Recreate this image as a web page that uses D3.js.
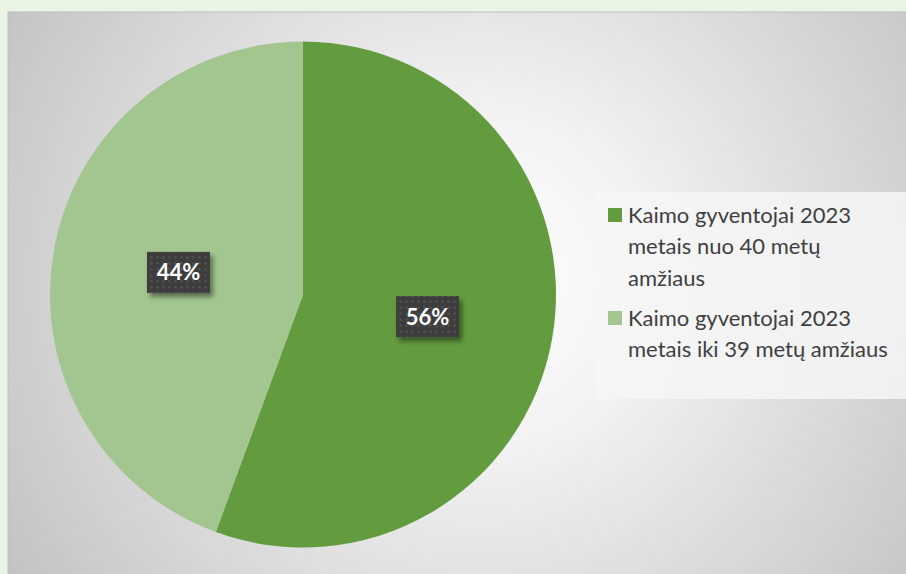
<!DOCTYPE html>
<html>
<head>
<meta charset="utf-8">
<script src="https://cdn.jsdelivr.net/npm/d3@7/dist/d3.min.js"></script>
<style>
  html, body { margin: 0; padding: 0; background: #e9f4e3; }
  svg { display: block; }
</style>
</head>
<body>
<svg id="chart" width="906" height="574"></svg>
<script>
// Data
const categories = [
  "Kaimo gyventojai 2023 metais nuo 40 metų amžiaus",
  "Kaimo gyventojai 2023 metais iki 39 metų amžiaus"
];
const legendLines = [
  ["Kaimo gyventojai 2023", "metais nuo 40 metų", "amžiaus"],
  ["Kaimo gyventojai 2023", "metais iki 39 metų amžiaus"]
];
const values = [55.6, 44.4];
const colors = ["#629c3e", "#a3c58f"];

const W = 906, H = 574;
const svg = d3.select("#chart");
const defs = svg.append("defs");

// background gradient
const rg = defs.append("radialGradient").attr("id", "bg")
  .attr("gradientUnits", "userSpaceOnUse")
  .attr("cx", 480).attr("cy", 280).attr("r", 560);
rg.append("stop").attr("offset", "0").attr("stop-color", "#ffffff");
rg.append("stop").attr("offset", "0.3").attr("stop-color", "#f2f2f2");
rg.append("stop").attr("offset", "1").attr("stop-color", "#c2c2c2");

// dotted pattern for labels
const pat = defs.append("pattern").attr("id", "dots")
  .attr("patternUnits", "userSpaceOnUse").attr("width", 6).attr("height", 6);
pat.append("rect").attr("width", 6).attr("height", 6).attr("fill", "#3e3e3e");
pat.append("rect").attr("x", 2).attr("y", 2).attr("width", 2).attr("height", 2).attr("fill", "#565656");

const sh = defs.append("filter").attr("id", "shadow")
  .attr("x", "-30%").attr("y", "-30%").attr("width", "160%").attr("height", "160%");
sh.append("feDropShadow").attr("dx", 3).attr("dy", 4).attr("stdDeviation", 2.5)
  .attr("flood-color", "#000").attr("flood-opacity", 0.45);

// chart area
svg.append("rect").attr("x", 8).attr("y", 12).attr("width", W).attr("height", H)
  .attr("fill", "url(#bg)").attr("stroke", "#bdbdbd").attr("stroke-width", 1);

// pie
const cx = 303, cy = 294.5, R = 253;
const pie = d3.pie().sort(null).value(d => d)(values);
const arc = d3.arc().innerRadius(0).outerRadius(R);
const labelArc = d3.arc().innerRadius(R * 0.5).outerRadius(R * 0.5);
const g = svg.append("g").attr("transform", `translate(${cx},${cy})`);
g.selectAll("path.slice").data(pie).join("path")
  .attr("class", "slice")
  .attr("d", arc)
  .attr("fill", (d, i) => colors[i]);

const total = d3.sum(values);
const lbl = g.selectAll("g.lbl").data(pie).join("g")
  .attr("class", "lbl")
  .attr("transform", d => `translate(${labelArc.centroid(d)})`);
lbl.append("rect")
  .attr("x", -31.5).attr("y", -20.5).attr("width", 63).attr("height", 41)
  .attr("fill", "url(#dots)").attr("filter", "url(#shadow)");
lbl.append("text")
  .attr("text-anchor", "middle").attr("dy", "0.36em")
  .attr("fill", "#ffffff")
  .attr("font-family", "Lato, sans-serif")
  .attr("font-weight", 700).attr("font-size", 22)
  .text(d => Math.round(d.value / total * 100) + "%");

// legend
svg.append("rect").attr("x", 596).attr("y", 192).attr("width", 310).attr("height", 207)
  .attr("fill", "#f6f6f6").attr("fill-opacity", 0.85);

const lineH = 31.5;
const entryStart = [215, 318];
legendLines.forEach((lines, i) => {
  const lg = svg.append("g");
  lg.append("rect").attr("x", 608).attr("y", entryStart[i] - 7).attr("width", 14).attr("height", 14)
    .attr("fill", colors[i]);
  lines.forEach((t, j) => {
    lg.append("text")
      .attr("x", 628).attr("y", entryStart[i] + j * lineH)
      .attr("dy", "0.36em")
      .attr("fill", "#404040")
      .attr("font-family", "Lato, sans-serif")
      .attr("font-size", 22)
      .text(t);
  });
});
</script>
</body>
</html>
